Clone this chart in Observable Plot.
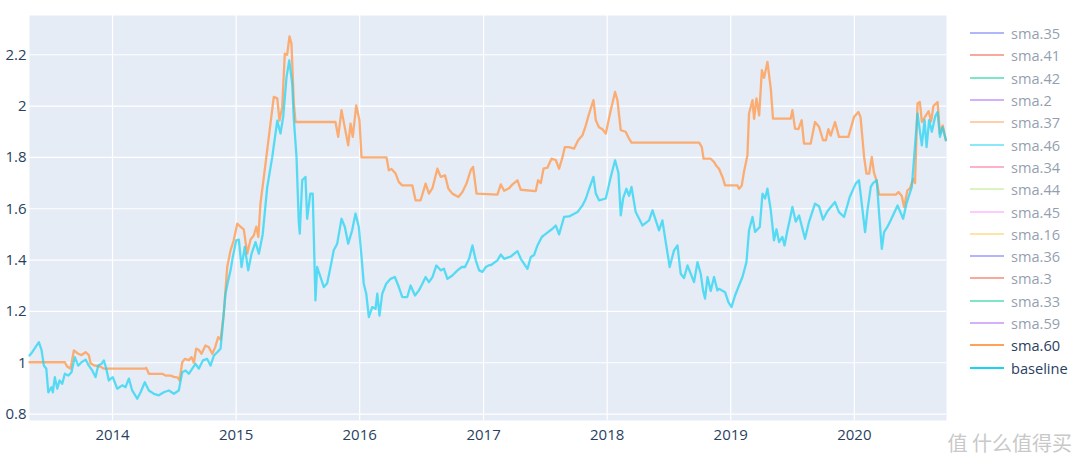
<!DOCTYPE html>
<html>
<head>
<meta charset="utf-8">
<script src="https://cdn.jsdelivr.net/npm/d3@7"></script>
<script src="https://cdn.jsdelivr.net/npm/@observablehq/plot@0.6"></script>
<style>
  body { margin: 0; background: #fff; font-family: "Open Sans", sans-serif; }
  #wrap { position: relative; width: 1080px; height: 463px; }
  #legend { position: absolute; left: 969px; top: 22px; }
  .item { display: flex; align-items: center; height: 22.3px; font-size: 14.6px; color: #2a3f5f; }
  .item svg { margin-right: 6px; }
  .off { opacity: 0.5; }
  #wm { position: absolute; right: 8px; bottom: 6px; font-size: 20px; color: #c8c8c8; font-family: "Noto Sans CJK SC", sans-serif; }
</style>
</head>
<body>
<div id="wrap"><div id="legend"></div><div id="wm">值 什么值得买</div></div>
<script>
// decimal-year dates and values
const baselineYears = [2013.328,2013.350,2013.377,2013.404,2013.426,2013.444,2013.464,2013.480,2013.506,2013.517,2013.533,2013.553,2013.571,2013.593,2013.614,2013.642,2013.668,2013.695,2013.722,2013.749,2013.782,2013.808,2013.836,2013.862,2013.884,2013.911,2013.930,2013.949,2013.970,2014.002,2014.038,2014.078,2014.105,2014.132,2014.159,2014.200,2014.227,2014.261,2014.294,2014.334,2014.375,2014.415,2014.456,2014.496,2014.536,2014.564,2014.591,2014.617,2014.645,2014.672,2014.698,2014.731,2014.766,2014.793,2014.820,2014.847,2014.874,2014.888,2014.914,2014.936,2014.955,2014.973,2015.001,2015.022,2015.044,2015.070,2015.098,2015.125,2015.157,2015.184,2015.215,2015.252,2015.292,2015.333,2015.359,2015.381,2015.408,2015.430,2015.454,2015.467,2015.489,2015.507,2015.515,2015.535,2015.561,2015.575,2015.600,2015.620,2015.642,2015.656,2015.683,2015.710,2015.737,2015.764,2015.790,2015.818,2015.853,2015.880,2015.907,2015.939,2015.966,2015.993,2016.015,2016.033,2016.053,2016.074,2016.101,2016.128,2016.142,2016.160,2016.182,2016.214,2016.249,2016.284,2016.316,2016.344,2016.384,2016.411,2016.446,2016.478,2016.506,2016.532,2016.559,2016.587,2016.619,2016.654,2016.680,2016.708,2016.748,2016.789,2016.824,2016.850,2016.883,2016.910,2016.937,2016.964,2016.991,2017.018,2017.045,2017.058,2017.112,2017.139,2017.166,2017.220,2017.274,2017.301,2017.355,2017.382,2017.409,2017.436,2017.471,2017.498,2017.557,2017.584,2017.611,2017.651,2017.692,2017.760,2017.800,2017.827,2017.854,2017.889,2017.908,2017.934,2017.989,2018.029,2018.064,2018.091,2018.110,2018.129,2018.156,2018.177,2018.197,2018.231,2018.286,2018.339,2018.367,2018.420,2018.447,2018.474,2018.506,2018.541,2018.569,2018.595,2018.622,2018.650,2018.703,2018.731,2018.757,2018.776,2018.792,2018.812,2018.838,2018.865,2018.892,2018.905,2018.954,2018.981,2019.006,2019.035,2019.062,2019.095,2019.127,2019.148,2019.176,2019.197,2019.235,2019.257,2019.278,2019.297,2019.324,2019.350,2019.370,2019.391,2019.418,2019.435,2019.459,2019.477,2019.499,2019.526,2019.553,2019.601,2019.633,2019.682,2019.714,2019.747,2019.782,2019.844,2019.876,2019.917,2019.963,2020.011,2020.038,2020.087,2020.106,2020.133,2020.151,2020.181,2020.200,2020.222,2020.240,2020.268,2020.294,2020.349,2020.394,2020.421,2020.464,2020.510,2020.545,2020.567,2020.583,2020.604,2020.626,2020.653,2020.672,2020.691,2020.713,2020.739];
const baselineValues = [1.028,1.041,1.061,1.080,1.048,0.989,0.977,0.885,0.905,0.885,0.944,0.899,0.931,0.918,0.957,0.950,0.963,1.022,0.989,1.002,1.012,0.989,0.970,0.944,0.989,0.996,1.009,0.977,0.931,0.944,0.899,0.912,0.905,0.938,0.892,0.860,0.885,0.924,0.892,0.879,0.873,0.885,0.892,0.879,0.892,0.963,0.970,0.957,0.977,0.996,0.977,1.009,1.015,0.989,1.028,1.041,1.055,1.126,1.269,1.321,1.360,1.412,1.477,1.480,1.373,1.451,1.360,1.425,1.470,1.425,1.500,1.685,1.800,1.943,1.893,1.958,2.113,2.178,2.087,1.950,1.800,1.550,1.503,1.711,1.724,1.561,1.659,1.659,1.243,1.373,1.334,1.295,1.310,1.373,1.438,1.464,1.561,1.529,1.464,1.516,1.581,1.529,1.412,1.308,1.269,1.178,1.217,1.210,1.269,1.184,1.269,1.308,1.327,1.334,1.295,1.256,1.256,1.301,1.262,1.282,1.308,1.334,1.314,1.334,1.379,1.360,1.366,1.327,1.340,1.360,1.373,1.373,1.405,1.457,1.399,1.360,1.354,1.373,1.380,1.380,1.399,1.422,1.405,1.414,1.435,1.405,1.366,1.412,1.420,1.457,1.490,1.500,1.522,1.535,1.500,1.568,1.570,1.587,1.613,1.639,1.678,1.724,1.659,1.633,1.640,1.724,1.789,1.740,1.574,1.640,1.678,1.650,1.685,1.587,1.535,1.555,1.594,1.516,1.555,1.470,1.373,1.438,1.457,1.347,1.330,1.379,1.314,1.392,1.347,1.282,1.250,1.334,1.280,1.334,1.282,1.288,1.275,1.236,1.217,1.262,1.295,1.334,1.392,1.516,1.568,1.510,1.529,1.659,1.640,1.678,1.594,1.477,1.520,1.470,1.490,1.457,1.516,1.555,1.607,1.550,1.574,1.483,1.548,1.620,1.610,1.558,1.590,1.626,1.587,1.568,1.646,1.698,1.711,1.509,1.594,1.685,1.700,1.711,1.581,1.444,1.509,1.530,1.555,1.613,1.561,1.620,1.685,1.971,1.847,1.945,1.840,1.945,1.900,1.960,1.977,1.880,1.918,1.867];

const sma60Years = [2013.328,2013.614,2013.633,2013.660,2013.687,2013.722,2013.749,2013.782,2013.808,2013.822,2013.849,2013.900,2013.930,2014.261,2014.273,2014.294,2014.402,2014.429,2014.470,2014.496,2014.530,2014.542,2014.564,2014.585,2014.617,2014.639,2014.658,2014.677,2014.698,2014.720,2014.752,2014.780,2014.807,2014.830,2014.855,2014.875,2014.900,2014.928,2014.955,2014.981,2015.009,2015.035,2015.062,2015.090,2015.117,2015.143,2015.163,2015.180,2015.197,2015.238,2015.278,2015.305,2015.333,2015.351,2015.373,2015.394,2015.413,2015.432,2015.448,2015.467,2015.481,2015.804,2015.826,2015.853,2015.879,2015.907,2015.926,2015.944,2015.972,2015.998,2016.015,2016.217,2016.235,2016.257,2016.290,2016.316,2016.344,2016.425,2016.451,2016.492,2016.532,2016.559,2016.587,2016.627,2016.654,2016.689,2016.716,2016.748,2016.797,2016.829,2016.862,2016.896,2016.915,2016.943,2017.112,2017.139,2017.166,2017.206,2017.234,2017.274,2017.301,2017.422,2017.441,2017.463,2017.485,2017.517,2017.549,2017.584,2017.611,2017.638,2017.657,2017.692,2017.732,2017.765,2017.800,2017.827,2017.854,2017.889,2017.908,2017.934,2017.962,2017.989,2018.029,2018.064,2018.083,2018.110,2018.150,2018.177,2018.197,2018.744,2018.766,2018.780,2018.838,2018.865,2018.880,2018.905,2018.933,2018.954,2019.054,2019.067,2019.089,2019.107,2019.135,2019.148,2019.176,2019.189,2019.208,2019.230,2019.252,2019.270,2019.297,2019.324,2019.342,2019.485,2019.499,2019.520,2019.548,2019.574,2019.593,2019.647,2019.682,2019.714,2019.747,2019.770,2019.790,2019.809,2019.844,2019.876,2019.952,2019.998,2020.033,2020.050,2020.079,2020.098,2020.120,2020.141,2020.159,2020.179,2020.200,2020.335,2020.357,2020.383,2020.402,2020.429,2020.450,2020.475,2020.490,2020.510,2020.529,2020.545,2020.578,2020.600,2020.620,2020.638,2020.672,2020.691,2020.713,2020.739];
const sma60Values = [1.002,1.002,0.985,0.977,1.048,1.035,1.030,1.041,1.030,0.998,0.990,0.985,0.977,0.977,0.980,0.957,0.957,0.950,0.950,0.945,0.942,0.931,1.002,1.015,1.010,1.022,1.000,1.055,1.050,1.035,1.067,1.060,1.035,1.060,1.100,1.090,1.191,1.373,1.438,1.477,1.542,1.530,1.520,1.425,1.480,1.496,1.530,1.490,1.620,1.776,1.932,2.036,2.030,1.943,1.996,2.204,2.200,2.272,2.243,2.010,1.938,1.938,1.880,1.984,1.918,1.847,1.932,1.880,2.003,1.945,1.800,1.800,1.750,1.755,1.737,1.704,1.691,1.691,1.633,1.633,1.698,1.659,1.680,1.756,1.724,1.730,1.678,1.659,1.646,1.665,1.698,1.750,1.763,1.659,1.655,1.695,1.670,1.680,1.695,1.711,1.674,1.669,1.711,1.700,1.756,1.760,1.795,1.790,1.756,1.800,1.840,1.840,1.834,1.867,1.886,1.925,1.971,2.023,1.945,1.918,1.910,1.893,1.984,2.055,2.023,1.906,1.900,1.873,1.858,1.858,1.840,1.795,1.795,1.782,1.770,1.756,1.724,1.691,1.691,1.678,1.690,1.743,1.808,1.971,2.023,1.950,2.030,1.964,2.140,2.110,2.172,2.068,1.951,1.951,1.984,1.912,1.910,1.945,1.854,1.854,1.938,1.920,1.867,1.867,1.910,1.885,1.938,1.880,1.880,1.958,1.977,1.958,1.802,1.737,1.737,1.802,1.740,1.711,1.655,1.655,1.665,1.650,1.607,1.672,1.680,1.717,1.700,2.010,2.016,1.938,1.964,1.980,1.940,2.000,2.016,1.893,1.925,1.867];

const legendNames = ["sma.35","sma.41","sma.42","sma.2","sma.37","sma.46","sma.34","sma.44","sma.45","sma.16","sma.36","sma.3","sma.33","sma.59","sma.60","baseline"];
const legendColors = ["#636efa","#EF553B","#00cc96","#ab63fa","#FFA15A","#19d3f3","#FF6692","#B6E880","#FF97FF","#FECB52","#636efa","#EF553B","#00cc96","#ab63fa","#FFA15A","#19d3f3"];
const visibleNames = ["sma.60","baseline"];
const yTicks = [0.8,1,1.2,1.4,1.6,1.8,2,2.2];
const xTickYears = [2014,2015,2016,2017,2018,2019,2020];
const xDomainYears = [2013.328, 2020.744];
const yDomain = [0.775, 2.353];

function yearToDate(y) {
  const yr = Math.floor(y);
  const start = Date.UTC(yr, 0, 1), end = Date.UTC(yr + 1, 0, 1);
  return new Date(start + (y - yr) * (end - start));
}

const sma = sma60Years.map((y, i) => ({date: yearToDate(y), value: sma60Values[i]}));
const base = baselineYears.map((y, i) => ({date: yearToDate(y), value: baselineValues[i]}));

const chart = Plot.plot({
  width: 1080,
  height: 463,
  marginLeft: 29,
  marginRight: 134,
  marginTop: 15,
  marginBottom: 43,
  style: {fontFamily: "'Open Sans', sans-serif", fontSize: "15px", color: "#2a3f5f", background: "transparent"},
  x: {type: "utc", domain: xDomainYears.map(yearToDate)},
  y: {domain: yDomain},
  marks: [
    Plot.frame({fill: "#E5ECF6", stroke: null}),
    Plot.gridX(xTickYears.map(y => yearToDate(y)), {stroke: "#fff", strokeOpacity: 1, strokeWidth: 1.2}),
    Plot.gridY(yTicks, {stroke: "#fff", strokeOpacity: 1, strokeWidth: 1.2}),
    Plot.axisY(yTicks, {tickSize: 0, tickPadding: 3, tickFormat: d => String(+d.toFixed(1)), label: null, fill: "#2a3f5f"}),
    Plot.axisX(xTickYears.map(y => yearToDate(y)), {tickSize: 0, tickPadding: 9, tickFormat: d3.utcFormat("%Y"), label: null, fill: "#2a3f5f"}),
    Plot.line(sma, {x: "date", y: "value", stroke: legendColors[14], strokeWidth: 2.3, strokeOpacity: 0.85}),
    Plot.line(base, {x: "date", y: "value", stroke: legendColors[15], strokeWidth: 2.3, strokeOpacity: 0.7})
  ]
});
document.getElementById("wrap").prepend(chart);

const legend = document.getElementById("legend");
legendNames.forEach((n, i) => {
  const d = document.createElement("div");
  d.className = "item" + (visibleNames.includes(n) ? "" : " off");
  d.innerHTML = `<svg width="36" height="4"><line x1="1" y1="2" x2="35" y2="2" stroke="${legendColors[i]}" stroke-width="2"/></svg><span>${n}</span>`;
  legend.appendChild(d);
});
</script>
</body>
</html>
